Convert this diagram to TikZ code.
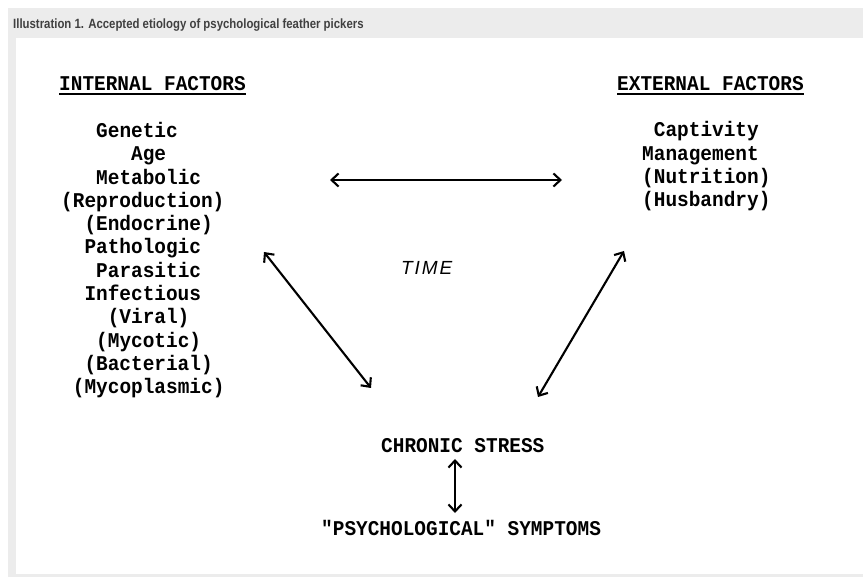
\documentclass[tikz,border=0pt]{standalone}
\usepackage{fontspec}
\setmainfont{Liberation Sans}
\usetikzlibrary{arrows.meta}
\newfontfamily\twfont[FakeStretch=0.925,Ligatures=TeXOff]{Liberation Mono}
\newfontfamily\ttlfont[FakeStretch=0.85]{Liberation Sans}
\newfontfamily\timefont[LetterSpace=10]{Liberation Sans}
\definecolor{framegray}{HTML}{ECECEC}
\definecolor{titlegray}{HTML}{404040}
\begin{document}
\begin{tikzpicture}[x=1pt,y=-1pt,
  tw/.style={anchor=base west,inner sep=0pt,font=\twfont\bfseries\fontsize{21}{21}\selectfont},
  ulinestyle/.style={line width=2pt},
  dbl/.style={line width=2.1pt,{Straight Barb[length=7pt,width=13pt,line width=2.1pt]}-{Straight Barb[length=7pt,width=13pt,line width=2.1pt]}}]
\useasboundingbox (0,0) rectangle (863,577);
\fill[white] (0,0) rectangle (863,577);
\fill[framegray] (8,8) rectangle (863,577);
\fill[white] (16,38) rectangle (863,574);
\node[anchor=base west,inner sep=0pt,text=titlegray,font=\ttlfont\bfseries\fontsize{13.4}{14}\selectfont] (title) at (13,29) {Illustration 1. Accepted etiology of psychological feather pickers};
% headings
\node[tw] (ih) at (59,91) {INTERNAL FACTORS};
\node[tw] (eh) at (617,91) {EXTERNAL FACTORS};
\draw[ulinestyle] ([yshift=-3pt]ih.base west) -- ([yshift=-3pt]ih.base east);
\draw[ulinestyle] ([yshift=-3pt]eh.base west) -- ([yshift=-3pt]eh.base east);
% internal factors
\node[tw] (l1) at (96.0,137.5) {Genetic};
\node[tw] (l2) at (130.9,160.8) {Age};
\node[tw] (l3) at (96.0,184.1) {Metabolic};
\node[tw] (l4) at (61.0,207.4) {(Reproduction)};
\node[tw] (l5) at (84.3,230.7) {(Endocrine)};
\node[tw] (l6) at (84.3,254.0) {Pathologic};
\node[tw] (l7) at (96.0,277.3) {Parasitic};
\node[tw] (l8) at (84.3,300.6) {Infectious};
\node[tw] (l9) at (107.6,323.9) {(Viral)};
\node[tw] (l10) at (96.0,347.2) {(Mycotic)};
\node[tw] (l11) at (84.3,370.5) {(Bacterial)};
\node[tw] (l12) at (72.7,393.8) {(Mycoplasmic)};
% external factors
\node[tw] (r1) at (653.7,137.0) {Captivity};
\node[tw] (r2) at (642.0,160.3) {Management};
\node[tw] (r3) at (642.0,183.6) {(Nutrition)};
\node[tw] (r4) at (642.0,206.9) {(Husbandry)};
% centre
\node[anchor=base west,inner sep=0pt,font=\timefont\itshape\fontsize{19}{19}\selectfont] (time) at (401,274.5) {TIME};
\node[tw] (cs) at (381,452.5) {CHRONIC STRESS};
\node[tw] (ps) at (321,535.5) {"PSYCHOLOGICAL" SYMPTOMS};
% arrow ends
\coordinate (hL) at (330,180);
\coordinate (hR) at (562,180);
\coordinate (dLa) at (264,252);
\coordinate (dLb) at (371,388);
\coordinate (dRa) at (624,251);
\coordinate (dRb) at (538,397);
\coordinate (vA) at (455,459);
\coordinate (vB) at (455,513);
\draw[dbl] (hL) -- (hR);
\draw[dbl] (dLa) -- (dLb);
\draw[dbl] (dRa) -- (dRb);
\draw[dbl] (vA) -- (vB);
\end{tikzpicture}
\end{document}
